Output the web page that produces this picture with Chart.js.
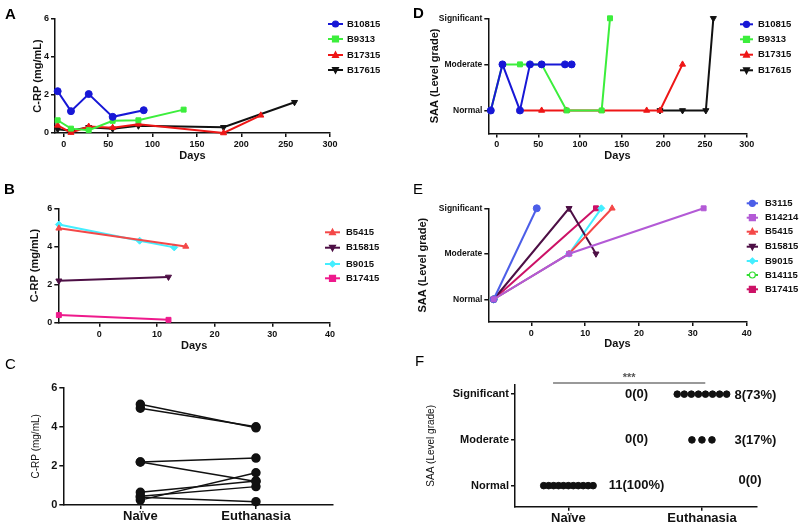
<!DOCTYPE html>
<html><head><meta charset="UTF-8"><title>C-RP and SAA panels</title>
<script src="https://cdn.jsdelivr.net/npm/chart.js@4"></script>
<style>
html,body{margin:0;padding:0;background:#fff;overflow:hidden;width:800px;height:524px;position:relative}
canvas{position:absolute}
</style></head><body>
<script>
// --- axis ticks / categories ---
const longDayTicks = [0, 50, 100, 150, 200, 250, 300];
const shortDayTicks = [0, 10, 20, 30, 40];
const crpTicks = [0, 2, 4, 6];
const saaLevels = ['Normal', 'Moderate', 'Significant'];   // grade 1, 2, 3
const saaTicks = [1, 2, 3];
const groups = ['Naïve', 'Euthanasia'];
const groupTicks = [1, 2];

// --- A: C-RP over time ---
const aB10815Days = [-7, 8, 28, 55, 90];
const aB10815 = [2.2, 1.15, 2.05, 0.85, 1.2];
const aB9313Days = [-7, 8, 28, 55, 84, 135];
const aB9313 = [0.67, 0.23, 0.15, 0.64, 0.67, 1.23];
const aB17315Days = [-7, 8, 28, 55, 84, 180, 222];
const aB17315 = [0.4, 0.02, 0.34, 0.28, 0.46, 0.0, 0.93];
const aB17615Days = [-7, 8, 28, 55, 84, 180, 260];
const aB17615 = [0.2, 0.12, 0.3, 0.22, 0.38, 0.3, 1.62];

// --- D: SAA grade over time ---
const dB10815Days = [-7, 7, 28, 40, 54, 82, 90];
const dB10815 = [1, 2, 1, 2, 2, 2, 2];
const dB9313Days = [-7, 7, 28, 54, 84, 126, 136];
const dB9313 = [1, 2, 2, 2, 1, 1, 3];
const dB17315Days = [28, 54, 84, 126, 180, 196, 223];
const dB17315 = [1, 1, 1, 1, 1, 1, 2];
const dB17615Days = [196, 223, 251, 260];
const dB17615 = [1, 1, 1, 3];

// --- B: C-RP, short group ---
const bB5415Days = [-7, 15];
const bB5415 = [4.95, 4.0];
const bB15815Days = [-7, 12];
const bB15815 = [2.2, 2.4];
const bB9015Days = [-7, 7, 13];
const bB9015 = [5.15, 4.3, 3.95];
const bB17415Days = [-7, 12];
const bB17415 = [0.4, 0.15];

// --- E: SAA grade, short group ---
const eB3115Days = [-7, 1];
const eB3115 = [1, 3];
const eB14214Days = [-7, 7, 32];
const eB14214 = [1, 2, 3];
const eB5415Days = [-7, 7, 15];
const eB5415 = [1, 2, 3];
const eB15815Days = [-7, 7, 12];
const eB15815 = [1, 3, 2];
const eB9015Days = [-7, 7, 13];
const eB9015 = [1, 2, 3];
const eB14115Days = [-7];
const eB14115 = [1];
const eB17415Days = [-7, 12];
const eB17415 = [1, 3];

// --- C: paired C-RP ---
const cNaive = [5.15, 4.95, 2.2, 2.2, 0.65, 0.4, 0.45, 0.25];
const cEuthanasia = [3.95, 4.0, 2.4, 1.2, 1.23, 0.17, 0.94, 1.65];

// --- F: SAA grade counts (Normal, Moderate, Significant) ---
const fNaiveCounts = [11, 0, 0];
const fEuthCounts = [0, 3, 8];
const fNaiveText = ['11(100%)', '0(0)', '0(0)'];
const fEuthText = ['0(0)', '3(17%)', '8(73%)'];
const fSignificance = '***';

const PLAIN = '"Liberation Sans", Arial, sans-serif';
Chart.defaults.font.family = PLAIN;
Chart.defaults.color = '#111';

function pts(xs, ys) { return xs.map((x, i) => ({ x: x, y: ys[i] })); }

function series(label, xs, ys, color, style, rot, fillColor) {
    return {
        label: label, data: pts(xs, ys), borderColor: color, backgroundColor: fillColor || color,
        pointBackgroundColor: fillColor || color, pointBorderColor: color,
        borderWidth: 2, pointStyle: style, pointRotation: rot || 0, pointRadius: 3.5,
        pointBorderWidth: 1, fill: false, tension: 0, clip: false
    };
}

function axis(min, max, ticks, o) {
    return {
        type: 'linear', min: min, max: max,
        afterBuildTicks: s => { s.ticks = ticks.map(v => ({ value: v })); },
        grid: { drawOnChartArea: false, drawTicks: true, tickLength: 4, color: '#111', lineWidth: 1.5 },
        border: { display: true, color: '#111', width: 1.5 },
        ticks: { font: o.tickFont, color: '#111', padding: o.tickPad ?? 2, maxRotation: 0, autoSkip: false, callback: o.fmt || (v => v) },
        title: o.title ? { display: true, text: o.title, font: o.titleFont, color: '#111', padding: 0 } : { display: false }
    };
}

function marker(ctx, style, rot, x, y, r) {
    ctx.beginPath();
    if (style === 'circle') ctx.arc(x, y, r, 0, Math.PI * 2);
    else if (style === 'rect') ctx.rect(x - r, y - r, 2 * r, 2 * r);
    else if (style === 'triangle') {
        const s = rot ? -1 : 1;
        ctx.moveTo(x, y - s * r * 1.1); ctx.lineTo(x + r, y + s * r * 0.8); ctx.lineTo(x - r, y + s * r * 0.8); ctx.closePath();
    } else {
        ctx.moveTo(x, y - r); ctx.lineTo(x + r, y); ctx.lineTo(x, y + r); ctx.lineTo(x - r, y); ctx.closePath();
    }
    ctx.fill(); ctx.stroke();
}

// legend drawn at the right side, line + marker + name
const sideLegend = {
    id: 'sideLegend',
    afterDraw(chart, args, o) {
        if (!o.rows) return;
        const ctx = chart.ctx;
        ctx.save();
        chart.data.datasets.forEach((ds, i) => {
            const y = o.rows[i];
            ctx.strokeStyle = ds.borderColor; ctx.lineWidth = 2;
            ctx.beginPath(); ctx.moveTo(o.x1, y); ctx.lineTo(o.x2, y); ctx.stroke();
            ctx.lineWidth = 1.2; ctx.fillStyle = ds.pointBackgroundColor;
            marker(ctx, ds.pointStyle, ds.pointRotation, (o.x1 + o.x2) / 2, y, 3);
            ctx.fillStyle = '#111'; ctx.font = 'bold 9.5px ' + PLAIN; ctx.textBaseline = 'middle';
            ctx.fillText(ds.label, o.tx, y);
        });
        ctx.restore();
    }
};

// panel letter
const tag = {
    id: 'tag',
    afterDraw(chart, args, o) {
        if (!o.text) return;
        const ctx = chart.ctx;
        ctx.save();
        ctx.font = o.font; ctx.fillStyle = '#000'; ctx.textBaseline = 'top';
        ctx.fillText(o.text, o.x, o.y);
        ctx.restore();
    }
};

// F: count labels and significance bar
const fNotes = {
    id: 'fNotes',
    afterDraw(chart) {
        const ctx = chart.ctx, xs = chart.scales.x, ys = chart.scales.y;
        ctx.save();
        ctx.font = 'bold 13px ' + PLAIN; ctx.fillStyle = '#111'; ctx.textAlign = 'center'; ctx.textBaseline = 'middle';
        fNaiveText.forEach((t, i) => ctx.fillText(t, xs.getPixelForValue(1.51), ys.getPixelForValue(i + 1)));
        fEuthText.forEach((t, i) => ctx.fillText(t, xs.getPixelForValue(i === 0 ? 2.36 : 2.4), ys.getPixelForValue(i + 1) - (i === 0 ? 5 : -1)));
        const top = chart.chartArea.top - 2;
        ctx.strokeStyle = '#777'; ctx.lineWidth = 1.5;
        ctx.beginPath(); ctx.moveTo(xs.getPixelForValue(0.885), top); ctx.lineTo(xs.getPixelForValue(2.025), top); ctx.stroke();
        ctx.font = 'bold 11px ' + PLAIN; ctx.fillStyle = '#555';
        ctx.fillText(fSignificance, xs.getPixelForValue(1.455), top - 5);
        ctx.restore();
    }
};

// place one panel so that its plot area lands on p.area (page pixels)
function build(p) {
    const lhY = p.yTitleSize * 1.2;
    const yBoxLeft = p.yTitleX - lhY / 2;
    const xBottom = p.xTitleY ? p.xTitleY + 11 * 1.2 / 2 : p.area.b + 24;
    const cv = document.createElement('canvas');
    cv.width = p.width; cv.height = p.height;
    cv.style.left = p.left + 'px'; cv.style.top = p.top + 'px';
    document.body.appendChild(cv);
    p.x.afterFit = s => { s.height = xBottom - p.area.b; };
    p.y.afterFit = s => { s.width = p.area.l - yBoxLeft; };
    return new Chart(cv, {
        type: 'line',
        data: { datasets: p.datasets },
        options: {
            responsive: false, animation: false, devicePixelRatio: 1,
            layout: { padding: { left: yBoxLeft - p.left, top: p.area.t - p.top, right: p.left + p.width - p.area.r, bottom: p.top + p.height - xBottom } },
            scales: { x: p.x, y: p.y },
            plugins: Object.assign({ legend: { display: false }, tooltip: { enabled: false } }, p.plugins)
        },
        plugins: [tag, sideLegend].concat(p.extra || [])
    });
}

const tickFont = { family: PLAIN, size: 9, weight: 'bold' };
const levelFont = { family: PLAIN, size: 8.5, weight: 'bold' };
const titleFont = { family: PLAIN, size: 11, weight: 'bold' };
const levelFmt = v => saaLevels[v - 1];

// A
build({
    left: 0, top: 0, width: 400, height: 180,
    area: { l: 55, t: 19, r: 330, b: 133 }, yTitleX: 38, yTitleSize: 11, xTitleY: 156,
    datasets: [
        series('B10815', aB10815Days, aB10815, '#1717d6', 'circle'),
        series('B9313', aB9313Days, aB9313, '#3cee3c', 'rect'),
        series('B17315', aB17315Days, aB17315, '#ee1616', 'triangle'),
        series('B17615', aB17615Days, aB17615, '#111111', 'triangle', 180)
    ],
    x: axis(-10, 300, longDayTicks, { tickFont: tickFont, title: 'Days', titleFont: titleFont }),
    y: axis(0, 6, crpTicks, { tickFont: tickFont, title: 'C-RP (mg/mL)', titleFont: titleFont }),
    plugins: { tag: { text: 'A', x: 5, y: 7, font: 'bold 15px ' + PLAIN }, sideLegend: { x1: 328, x2: 343, tx: 347, rows: [24, 39, 55, 70] } }
});

// D
build({
    left: 400, top: 0, width: 400, height: 180,
    area: { l: 488.3, t: 18.3, r: 746.7, b: 133.5 }, yTitleX: 435, yTitleSize: 11, xTitleY: 155.7,
    datasets: [
        series('B10815', dB10815Days, dB10815, '#1717d6', 'circle'),
        series('B9313', dB9313Days, dB9313, '#3cee3c', 'rect'),
        series('B17315', dB17315Days, dB17315, '#ee1616', 'triangle'),
        series('B17615', dB17615Days, dB17615, '#111111', 'triangle', 180)
    ],
    x: axis(-10, 300, longDayTicks, { tickFont: tickFont, title: 'Days', titleFont: titleFont }),
    y: axis(0.5, 3, saaTicks, { tickFont: levelFont, fmt: levelFmt, title: 'SAA (Level grade)', titleFont: titleFont }),
    plugins: { tag: { text: 'D', x: 13, y: 6, font: 'bold 15px ' + PLAIN }, sideLegend: { x1: 340, x2: 353, tx: 358, rows: [24.3, 39.3, 54.7, 70.3] } }
});

// B
build({
    left: 0, top: 170, width: 400, height: 185,
    area: { l: 58.3, t: 208.3, r: 330, b: 322.7 }, yTitleX: 35, yTitleSize: 11, xTitleY: 345.7,
    datasets: [
        series('B5415', bB5415Days, bB5415, '#f44848', 'triangle'),
        series('B15815', bB15815Days, bB15815, '#4d0f45', 'triangle', 180),
        series('B9015', bB9015Days, bB9015, '#44eeff', 'rectRot'),
        series('B17415', bB17415Days, bB17415, '#ee1a8c', 'rect')
    ],
    x: axis(-7.1, 40, shortDayTicks, { tickFont: tickFont, title: 'Days', titleFont: titleFont }),
    y: axis(0, 6, crpTicks, { tickFont: tickFont, title: 'C-RP (mg/mL)', titleFont: titleFont }),
    plugins: { tag: { text: 'B', x: 4, y: 12, font: 'bold 15px ' + PLAIN }, sideLegend: { x1: 325, x2: 340, tx: 346, rows: [62.3, 77.7, 94, 108.3] } }
});

// E
const eSets = [
    series('B3115', eB3115Days, eB3115, '#4c5ee8', 'circle'),
    series('B14214', eB14214Days, eB14214, '#b35ad6', 'rect'),
    series('B5415', eB5415Days, eB5415, '#f44848', 'triangle'),
    series('B15815', eB15815Days, eB15815, '#4d0f45', 'triangle', 180),
    series('B9015', eB9015Days, eB9015, '#44eeff', 'rectRot'),
    series('B14115', eB14115Days, eB14115, '#33dd33', 'circle', 0, '#ffffff'),
    series('B17415', eB17415Days, eB17415, '#cc1166', 'rect')
];
eSets[1].order = -1;   // purple square sits on top at day -7
build({
    left: 400, top: 170, width: 400, height: 185,
    area: { l: 488.3, t: 208.3, r: 746.7, b: 322 }, yTitleX: 423, yTitleSize: 11, xTitleY: 344,
    datasets: eSets,
    x: axis(-8, 40, shortDayTicks, { tickFont: tickFont, title: 'Days', titleFont: titleFont }),
    y: axis(0.5, 3, saaTicks, { tickFont: levelFont, fmt: levelFmt, title: 'SAA (Level grade)', titleFont: titleFont }),
    plugins: { tag: { text: 'E', x: 13, y: 12, font: '15px ' + PLAIN }, sideLegend: { x1: 346.7, x2: 358, tx: 365, rows: [33.3, 47.7, 61.7, 76.7, 91, 105, 119.3] } }
});

// C
const cSets = cNaive.map((v, i) => ({
    data: pts(groupTicks, [v, cEuthanasia[i]]), borderColor: '#111', backgroundColor: '#111',
    borderWidth: 1.5, pointRadius: 4, pointStyle: 'circle', tension: 0, clip: false
}));
const groupFont = { family: PLAIN, size: 13, weight: 'bold' };
build({
    left: 0, top: 345, width: 400, height: 185,
    area: { l: 63.3, t: 387.7, r: 333, b: 505 }, yTitleX: 36.7, yTitleSize: 10,
    datasets: cSets,
    x: axis(1 / 3, 8 / 3, groupTicks, { tickFont: groupFont, tickPad: 0, fmt: v => groups[v - 1] }),
    y: axis(0, 6, crpTicks, { tickFont: { family: PLAIN, size: 11, weight: 'bold' }, title: 'C-RP (mg/mL)', titleFont: { family: PLAIN, size: 10 } }),
    plugins: { tag: { text: 'C', x: 5, y: 12, font: '15px ' + PLAIN } }
});

// F: dot rows from counts
function dotRow(group, level, n) {
    const step = n > 1 ? Math.min(0.075, 0.37 / (n - 1)) : 0;
    const out = [];
    for (let i = 0; i < n; i++) out.push({ x: group + (i - (n - 1) / 2) * step, y: level });
    return out;
}
const fDots = [];
saaTicks.forEach((lv, i) => {
    fDots.push(...dotRow(1, lv, fNaiveCounts[i]));
    fDots.push(...dotRow(2, lv, fEuthCounts[i]));
});
build({
    left: 400, top: 345, width: 400, height: 185,
    area: { l: 515, t: 385, r: 756.7, b: 506.7 }, yTitleX: 431.7, yTitleSize: 10,
    datasets: [{ data: fDots, showLine: false, pointRadius: 3.3, pointStyle: 'circle', backgroundColor: '#111', borderColor: '#111', clip: false }],
    x: axis(0.6, 2.41, groupTicks, { tickFont: groupFont, tickPad: 0, fmt: v => groups[v - 1] }),
    y: axis(0.54, 3.2, saaTicks, { tickFont: { family: PLAIN, size: 11, weight: 'bold' }, fmt: levelFmt, title: 'SAA (Level grade)', titleFont: { family: PLAIN, size: 10 } }),
    plugins: { tag: { text: 'F', x: 15, y: 9, font: '15px ' + PLAIN } },
    extra: [fNotes]
});
</script>
</body></html>
